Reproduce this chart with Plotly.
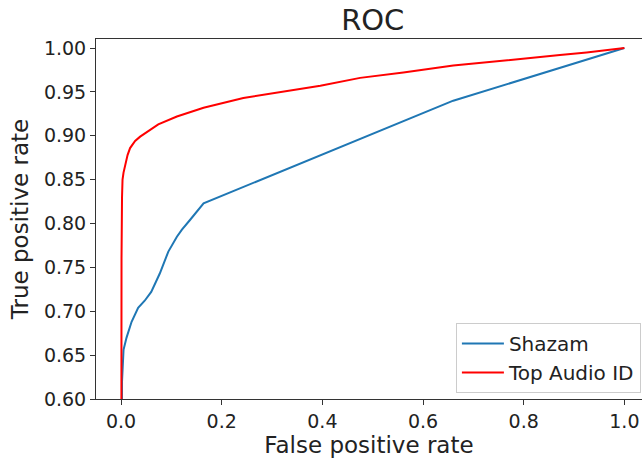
import plotly.graph_objects as go

# Shazam ROC
shazam_fpr = [0.0, 0.001, 0.002, 0.005, 0.011, 0.021, 0.034, 0.047, 0.060, 0.077,
              0.094, 0.111, 0.121, 0.137, 0.164, 0.660, 1.0]
shazam_tpr = [0.0, 0.55, 0.62, 0.656, 0.670, 0.688, 0.704, 0.712, 0.722, 0.743,
              0.768, 0.785, 0.793, 0.804, 0.823, 0.940, 1.0]

# Top Audio ID ROC
top_fpr = [0.0, 0.0, 0.001, 0.002, 0.003, 0.005, 0.008, 0.013, 0.018, 0.028, 0.038,
           0.055, 0.074, 0.111, 0.164, 0.243, 0.296, 0.336, 0.396, 0.475, 0.561,
           0.660, 0.793, 0.872, 0.925, 1.0]
top_tpr = [0.0, 0.60, 0.76, 0.83, 0.85, 0.858, 0.867, 0.878, 0.886, 0.894, 0.899,
           0.906, 0.913, 0.922, 0.932, 0.943, 0.948, 0.951, 0.957, 0.966, 0.972,
           0.980, 0.987, 0.992, 0.995, 1.0]

x_ticks = [0.0, 0.2, 0.4, 0.6, 0.8, 1.0]
y_ticks = [0.60, 0.65, 0.70, 0.75, 0.80, 0.85, 0.90, 0.95, 1.00]

FONT = "DejaVu Sans"
TXT = "#222222"

fig = go.Figure()
fig.add_trace(go.Scatter(x=shazam_fpr, y=shazam_tpr, mode="lines", name="Shazam",
                         line=dict(color="#1f77b4", width=2)))
fig.add_trace(go.Scatter(x=top_fpr, y=top_tpr, mode="lines", name="Top Audio ID",
                         line=dict(color="#ff0000", width=2)))

fig.update_layout(
    width=642, height=461,
    margin=dict(l=96, r=0, t=39, b=62),
    paper_bgcolor="white", plot_bgcolor="white",
    font=dict(family=FONT, color=TXT, size=19),
    title=dict(text="ROC", x=(372.75) / 642, xanchor="center",
               y=1 - 20 / 461, yanchor="middle",
               font=dict(family=FONT, size=29, color=TXT)),
    legend=dict(x=0.998, xanchor="right", y=0.017, yanchor="bottom",
                bgcolor="white", bordercolor="#cccccc", borderwidth=1,
                itemwidth=42,
                font=dict(family=FONT, size=20, color=TXT)),
    showlegend=True,
)
fig.update_xaxes(
    range=[-0.0497, 1.035], tickvals=x_ticks,
    ticktext=[f"{v:.1f}" for v in x_ticks],
    showgrid=False, zeroline=False,
    showline=True, linecolor="#333333", linewidth=1, mirror=True,
    ticks="outside", ticklen=5, tickcolor="#333333", tickwidth=1,
    tickfont=dict(family=FONT, size=19, color=TXT),
    title=dict(text="False positive rate", standoff=6,
               font=dict(family=FONT, size=23, color=TXT)),
)
fig.update_yaxes(
    range=[0.60, 1.0103], tickvals=y_ticks,
    ticktext=[f"{v:.2f}" for v in y_ticks],
    showgrid=False, zeroline=False,
    showline=True, linecolor="#333333", linewidth=1, mirror=False,
    ticks="outside", ticklen=5, tickcolor="#333333", tickwidth=1,
    tickfont=dict(family=FONT, size=19, color=TXT),
    title=dict(text="True positive rate", standoff=8,
               font=dict(family=FONT, size=23, color=TXT)),
)

fig.write_html("out.html")
